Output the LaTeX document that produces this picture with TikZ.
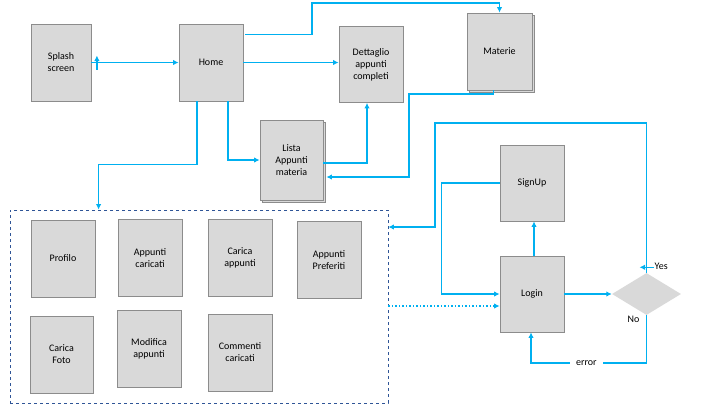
\documentclass[tikz,border=0pt]{standalone}
\usepackage{fontspec}
\setmainfont{Carlito}
\usetikzlibrary{calc, arrows.meta, shadows, shapes.geometric, decorations.markings}

\definecolor{flowblue}{HTML}{00B0F0}
\definecolor{boxgray}{HTML}{D9D9D9}
\definecolor{edgegray}{HTML}{8C8C8C}
\definecolor{menublue}{HTML}{2F5597}

\begin{document}
\begin{tikzpicture}
      [
        x=1pt, y=-1pt,
        font=\fontsize{10}{12}\selectfont,
        screen/.style={draw=edgegray, fill=boxgray, line width=0.8pt,
          minimum width=64pt, minimum height=77pt, align=center, inner sep=1pt},
        stack/.style={screen, copy shadow={shadow xshift=2.5pt, shadow yshift=-2.5pt,
          draw=edgegray, fill=boxgray}},
        flow/.style={draw=flowblue, line width=1.5pt, ->, >={Latex[length=5.5pt, width=5.5pt]}},
        tick/.style={postaction={decorate, decoration={markings,
          mark=at position 5.5pt with {\draw[flowblue, line width=1.5pt] (0,-7pt) -- (0,7pt);}}}}
      ]
      \useasboundingbox (0,0) rectangle (720,405);
      % top screens
      \node [screen, minimum width=60pt] (splash) at (61,62.5) {Splash\\screen};
      \node [screen] (home) at (211,62.5) {Home};
      \node [screen, minimum height=76pt] (dett) at (371,64.5) {Dettaglio\\appunti\\completi};
      \node [stack, minimum width=65pt] (materie) at (499.5,51.5) {Materie};
      \node [stack, minimum width=63pt, minimum height=80pt] (lista) at (291.5,160) {Lista\\Appunti\\materia};
      % user menu
      \node [draw=menublue, dashed, line width=0.8pt, minimum width=378pt, minimum height=193pt] (menu) at (199,306.5) {};
      \node [screen] (profilo) at (63,258.5) {Profilo};
      \node [screen] (caricati) at (150,258) {Appunti\\caricati};
      \node [screen] (carica) at (240,258) {Carica\\appunti};
      \node [screen] (preferiti) at (329,260) {Appunti\\Preferiti};
      \node [screen, minimum width=63pt] (foto) at (61.5,354.5) {Carica\\Foto};
      \node [screen] (modifica) at (149,348.5) {Modifica\\appunti};
      \node [screen] (commenti) at (240,352.5) {Commenti\\caricati};
      % login
      \node [screen, minimum height=76pt] (signup) at (532,183) {SignUp};
      \node [screen, minimum height=76pt] (login) at (532,294) {Login};
      \node [diamond, fill=boxgray, minimum width=69pt, minimum height=42pt, inner sep=0pt, aspect=1.6] (check) at (646.5,294) {};
      % edges
      \draw [flow, tick] (splash.east) -- (splash.east -| home.west);
      \draw [flow] (home.east) -- (home.east -| dett.west);
      \draw [flow] ($(home.north east)+(2,11)$) -| (312,3) -| (materie.north);
      \draw [flow] ([xshift=17]home.south) |- (lista.west);
      \draw [flow] ([xshift=-14]home.south) |- ($(menu.north west)+(89,-45)$) -- ($(menu.north west)+(89,0)$);
      \draw [flow] ([yshift=-3]lista.east) -| ([xshift=-4]dett.south);
      \draw [flow] ([xshift=-6]materie.south) |- (409,94) |- ([xshift=3,yshift=-17]lista.east);
      \draw [flow] (login.east) -- (check.west);
      \draw [flow] ([xshift=2]login.north) -- ([xshift=2]signup.south);
      \draw [flow] (signup.west) -- ++(-58,0) |- (login.west);
      \draw [flow, tick] (check.north) |- (435,123) |- ([yshift=79.5]menu.east);
      \draw [flow] (check.south) -- ++(0,48) -| node [pos=0.26, fill=white, inner xsep=6pt] (err) {error} ([xshift=-1]login.south);
      \draw [flow, dotted] ([yshift=-12]login.west -| menu.east) -- ([yshift=-12]login.west);
      % labels
      \node [anchor=west, inner sep=1pt] (yes) at ($(check.north)+(7,-6)$) {Yes};
      \node [anchor=north east, inner sep=1pt] (no) at ($(check.south)+(-6,0)$) {No};
\end{tikzpicture}
\end{document}
